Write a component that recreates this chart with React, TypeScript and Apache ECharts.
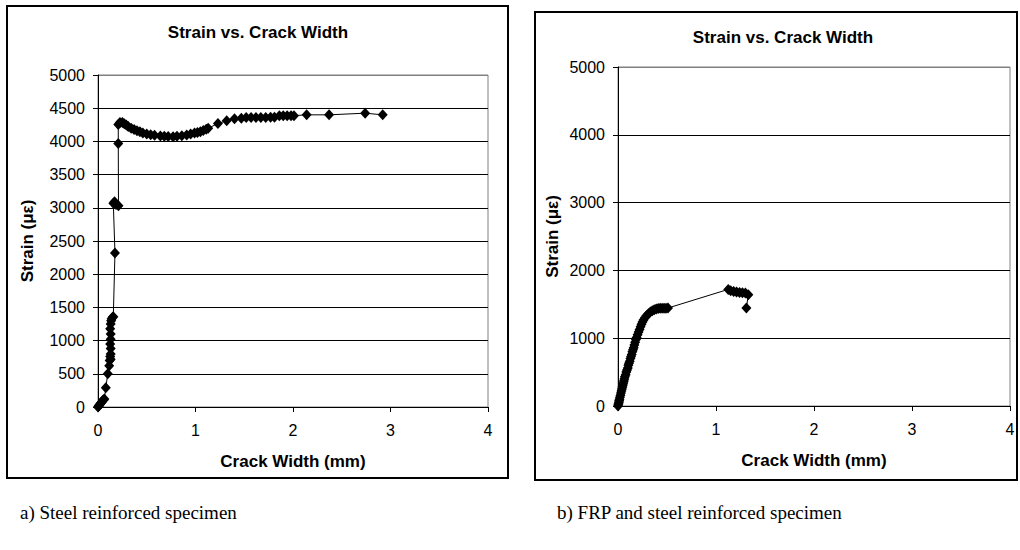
import React, { useEffect, useRef } from "react";
import * as echarts from "echarts";

// Steel reinforced specimen: [crack width (mm), strain (µε)]
const steelPoints: [number, number][] = [
  [0, 0], [0.005, 10], [0.01, 20], [0.015, 30], [0.02, 40], [0.03, 60], [0.04, 80],
  [0.05, 100], [0.06, 110], [0.065, 120], [0.08, 290], [0.1, 500], [0.115, 620],
  [0.12, 700], [0.125, 760], [0.13, 720], [0.13, 800], [0.13, 880], [0.125, 950],
  [0.13, 1020], [0.13, 1100], [0.125, 1180], [0.13, 1250], [0.135, 1300], [0.14, 1330],
  [0.15, 1350], [0.157, 1360], [0.174, 2320], [0.157, 3070], [0.17, 3090], [0.185, 3050],
  [0.21, 3030], [0.208, 3970], [0.208, 4255], [0.225, 4285], [0.25, 4285], [0.27, 4265],
  [0.29, 4247], [0.31, 4225], [0.34, 4197], [0.37, 4178], [0.4, 4161], [0.43, 4145],
  [0.46, 4128], [0.5, 4111], [0.54, 4100], [0.58, 4092], [0.64, 4081], [0.68, 4076],
  [0.72, 4072], [0.77, 4071], [0.81, 4076], [0.86, 4085], [0.91, 4096], [0.95, 4110],
  [0.99, 4125], [1.02, 4135], [1.05, 4146], [1.08, 4165], [1.11, 4182], [1.13, 4197],
  [1.23, 4270], [1.32, 4310], [1.4, 4340], [1.47, 4350], [1.52, 4360], [1.57, 4360],
  [1.62, 4360], [1.67, 4360], [1.72, 4360], [1.77, 4362], [1.81, 4365], [1.86, 4385],
  [1.9, 4388], [1.94, 4388], [1.98, 4388], [2.01, 4388], [2.14, 4400], [2.37, 4400],
  [2.74, 4425], [2.92, 4400],
];

// FRP and steel reinforced specimen
const frpPoints: [number, number][] = [
  [0, 0], [0.003, 20], [0.006, 40], [0.01, 60], [0.012, 80], [0.015, 100], [0.02, 130],
  [0.025, 160], [0.03, 190], [0.035, 220], [0.04, 250], [0.045, 280], [0.05, 310],
  [0.055, 340], [0.06, 370], [0.065, 400], [0.07, 430], [0.078, 460], [0.085, 500],
  [0.092, 530], [0.1, 560], [0.106, 600], [0.112, 630], [0.12, 660], [0.127, 700],
  [0.133, 730], [0.14, 760], [0.147, 800], [0.153, 830], [0.16, 860], [0.167, 900],
  [0.175, 940], [0.183, 980], [0.19, 1010], [0.2, 1050], [0.21, 1090], [0.22, 1130],
  [0.23, 1170], [0.24, 1205], [0.25, 1240], [0.26, 1270], [0.275, 1300], [0.29, 1330],
  [0.31, 1360], [0.33, 1385], [0.35, 1405], [0.37, 1420], [0.39, 1432], [0.41, 1438],
  [0.43, 1440], [0.45, 1440], [0.47, 1440], [0.49, 1442], [0.51, 1445], [1.125, 1720],
  [1.15, 1700], [1.18, 1690], [1.21, 1680], [1.24, 1675], [1.27, 1672], [1.3, 1668],
  [1.33, 1640], [1.31, 1445],
];

const titles = ["Strain vs. Crack Width", "Strain vs. Crack Width"];
const captions = ["a) Steel reinforced specimen", "b) FRP and steel reinforced specimen"];
const xAxisTitle = "Crack Width (mm)";
const yAxisTitle = "Strain (με)";
const xRange = [0, 4, 1];
const steelYRange = [0, 5000, 500];
const frpYRange = [0, 5000, 1000];

const sans = "'Liberation Sans', Arial, Helvetica, sans-serif";
const serif = "'Liberation Serif', 'Times New Roman', serif";

function xAxisCfg(gridIndex: number) {
  return {
    type: "value",
    gridIndex,
    min: xRange[0],
    max: xRange[1],
    interval: xRange[2],
    name: xAxisTitle,
    nameLocation: "middle",
    nameGap: 46,
    nameTextStyle: { fontFamily: sans, fontSize: 17, fontWeight: "bold", color: "#000" },
    axisLine: { show: true, onZero: false, lineStyle: { color: "#000", width: 1 } },
    axisTick: { show: true, inside: false, length: 5, lineStyle: { color: "#000", width: 1 } },
    axisLabel: { margin: 15, fontFamily: sans, fontSize: 16, color: "#000", formatter: (v: number) => String(v) },
    splitLine: { show: false },
  };
}

function yAxisCfg(gridIndex: number, range: number[], nameGap: number) {
  const n = Math.round((range[1] - range[0]) / range[2]) + 1;
  const colors: string[] = [];
  for (let i = 0; i < n; i++) colors.push(i === n - 1 ? "#808080" : "#000");
  return {
    type: "value",
    gridIndex,
    min: range[0],
    max: range[1],
    interval: range[2],
    name: yAxisTitle,
    nameLocation: "middle",
    nameGap,
    nameRotate: 90,
    nameTextStyle: { fontFamily: sans, fontSize: 17, fontWeight: "bold", color: "#000" },
    axisLine: { show: true, onZero: false, lineStyle: { color: "#000", width: 1 } },
    axisTick: { show: true, inside: false, length: 5, lineStyle: { color: "#000", width: 1 } },
    axisLabel: { margin: 13, fontFamily: sans, fontSize: 16, color: "#000", formatter: (v: number) => String(v) },
    splitLine: { show: true, lineStyle: { color: colors, width: 1 } },
  };
}

function seriesCfg(idx: number, data: [number, number][]) {
  return {
    type: "line",
    xAxisIndex: idx,
    yAxisIndex: idx,
    data,
    symbol: "diamond",
    symbolSize: [10, 11],
    showSymbol: true,
    lineStyle: { color: "#000", width: 1 },
    itemStyle: { color: "#000" },
    emphasis: { disabled: true },
    z: 5,
  };
}

export default function App() {
  const ref = useRef<HTMLDivElement>(null);
  useEffect(() => {
    if (!ref.current) return;
    const chart = echarts.init(ref.current, null, { renderer: "svg" });
    chart.setOption({
      animation: false,
      backgroundColor: "#fff",
      grid: [
        { left: 98, top: 75, width: 390, height: 332, show: true, borderColor: "#808080", borderWidth: 1 },
        { left: 618, top: 67, width: 392, height: 339, show: true, borderColor: "#808080", borderWidth: 1 },
      ],
      xAxis: [xAxisCfg(0), xAxisCfg(1)],
      yAxis: [yAxisCfg(0, steelYRange, 62), yAxisCfg(1, frpYRange, 57)],
      series: [seriesCfg(0, steelPoints), seriesCfg(1, frpPoints)],
      graphic: [
        { type: "rect", shape: { x: 7, y: 6, width: 501, height: 472 }, style: { fill: "none", stroke: "#000", lineWidth: 2 }, z: 10 },
        { type: "rect", shape: { x: 535, y: 12, width: 482, height: 468 }, style: { fill: "none", stroke: "#000", lineWidth: 2 }, z: 10 },
        { type: "text", x: 258, y: 32, style: { text: titles[0], align: "center", verticalAlign: "middle", fontFamily: sans, fontSize: 17, fontWeight: "bold", fill: "#000" }, z: 10 },
        { type: "text", x: 783, y: 37, style: { text: titles[1], align: "center", verticalAlign: "middle", fontFamily: sans, fontSize: 17, fontWeight: "bold", fill: "#000" }, z: 10 },
        { type: "text", x: 20, y: 512, style: { text: captions[0], align: "left", verticalAlign: "middle", fontFamily: serif, fontSize: 19, fill: "#000" }, z: 10 },
        { type: "text", x: 557, y: 512, style: { text: captions[1], align: "left", verticalAlign: "middle", fontFamily: serif, fontSize: 19, fill: "#000" }, z: 10 },
      ],
    });
    return () => chart.dispose();
  }, []);
  return (
    <div
      ref={ref}
      style={{ position: "absolute", left: 0, top: 0, width: 1020, height: 550, background: "#fff" }}
    />
  );
}
